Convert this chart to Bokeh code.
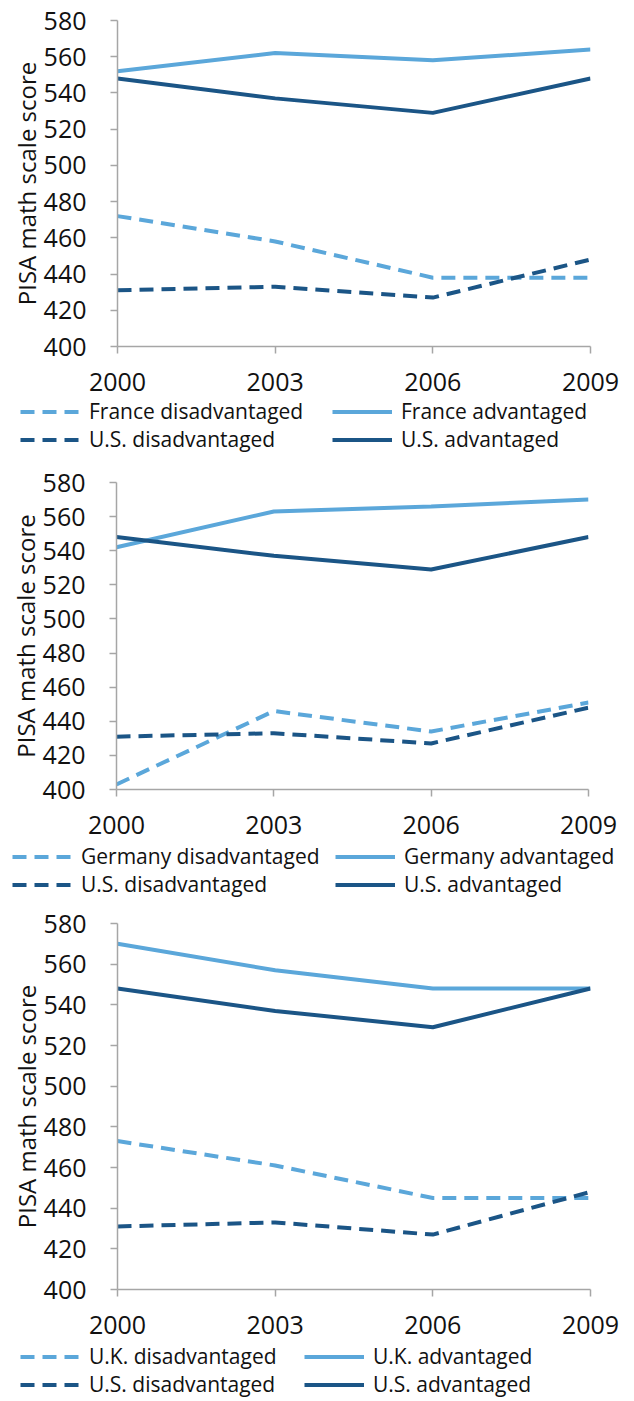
from bokeh.plotting import figure
from bokeh.models import Legend, LegendItem, FixedTicker, Range1d
from bokeh.embed import file_html
from bokeh.resources import INLINE

years = [2000, 2003, 2006, 2009]
y_ticks = [400, 420, 440, 460, 480, 500, 520, 540, 560, 580]

us_disadvantaged = [431, 433, 427, 448]
us_advantaged = [548, 537, 529, 548]

france_disadvantaged = [472, 458, 438, 438]
france_advantaged = [552, 562, 558, 564]

germany_disadvantaged = [403, 446, 434, 451]
germany_advantaged = [542, 563, 566, 570]

uk_disadvantaged = [473, 461, 445, 445]
uk_advantaged = [570, 557, 548, 548]

panels = [
    ("France", france_disadvantaged, france_advantaged),
    ("Germany", germany_disadvantaged, germany_advantaged),
    ("U.K.", uk_disadvantaged, uk_advantaged),
]

LIGHT = "#5BA7DA"
DARK = "#1B5586"
AXIS = "#A6A6A6"
FONT = "Open Sans"
DASH = "14 8"
W = 620

# (border_top, frame_h, border_left, frame_w, legend_h, legend_loc, label_width)
geom = [
    (20, 326, 117, 473, 63, (20, 7), 243),
    (22, 307, 116, 472, 63, (12, 5), 254),
    (20, 366, 117, 473, 58, (20, 0), 215),
]


def add_lines(p, dis, adv, **kw):
    r1 = p.line(years, dis, line_color=LIGHT, line_width=4, line_dash=DASH, **kw)
    r2 = p.line(years, adv, line_color=LIGHT, line_width=4, **kw)
    r3 = p.line(years, us_disadvantaged, line_color=DARK, line_width=4, line_dash=DASH, **kw)
    r4 = p.line(years, us_advantaged, line_color=DARK, line_width=4, **kw)
    return r1, r2, r3, r4


roots = []
for (country, dis, adv), (bt, fh, bl, fw, lh, loc, lw) in zip(panels, geom):
    p = figure(
        output_backend="svg", toolbar_location=None,
        frame_width=fw, frame_height=fh,
        min_border_top=bt, min_border_bottom=51,
        min_border_left=bl, min_border_right=W - bl - fw,
        x_range=Range1d(2000, 2009), y_range=Range1d(400, 580),
    )
    p.outline_line_color = None
    p.xgrid.visible = False
    p.ygrid.visible = False
    add_lines(p, dis, adv)

    for ax in (p.xaxis[0], p.yaxis[0]):
        ax.axis_line_color = AXIS
        ax.axis_line_width = 1.5
        ax.major_tick_line_color = AXIS
        ax.major_tick_line_width = 1.5
        ax.major_tick_out = 7
        ax.major_tick_in = 0
        ax.minor_tick_line_color = None
        ax.major_label_text_font = FONT
        ax.major_label_text_font_size = "25px"
        ax.major_label_text_color = "#111111"

    p.xaxis.ticker = FixedTicker(ticks=years)
    p.yaxis.ticker = FixedTicker(ticks=y_ticks)
    p.xaxis.major_label_standoff = 19
    p.yaxis.major_label_standoff = 24
    p.yaxis.axis_label = "PISA math scale score"
    p.yaxis.axis_label_text_font = FONT
    p.yaxis.axis_label_text_font_size = "24px"
    p.yaxis.axis_label_text_font_style = "normal"
    p.yaxis.axis_label_text_color = "#111111"
    p.yaxis.axis_label_standoff = -2
    roots.append(p)

    # legend strip below the chart, built from hidden copies of the same series
    lg = figure(
        output_backend="svg", toolbar_location=None,
        width=W, height=lh, min_border=0,
        x_axis_location=None, y_axis_location=None,
        x_range=Range1d(2000, 2009), y_range=Range1d(400, 580),
    )
    lg.outline_line_color = None
    lg.grid.visible = False
    r1, r2, r3, r4 = add_lines(lg, dis, adv, visible=False)
    legend = Legend(
        items=[
            LegendItem(label=f"{country} disadvantaged", renderers=[r1]),
            LegendItem(label="U.S. disadvantaged", renderers=[r3]),
            LegendItem(label=f"{country} advantaged", renderers=[r2]),
            LegendItem(label="U.S. advantaged", renderers=[r4]),
        ],
        location=loc, orientation="vertical", nrows=2,
        label_text_font=FONT, label_text_font_size="21px", label_text_color="#111111",
        glyph_width=60, glyph_height=27, label_height=27, label_standoff=9,
        label_width=lw,
        spacing=0, padding=0, margin=0,
        border_line_color=None, background_fill_alpha=0,
        inactive_fill_alpha=0,
    )
    lg.add_layout(legend, "center")
    roots.append(lg)

open("out.html", "w").write(file_html(roots, INLINE))
